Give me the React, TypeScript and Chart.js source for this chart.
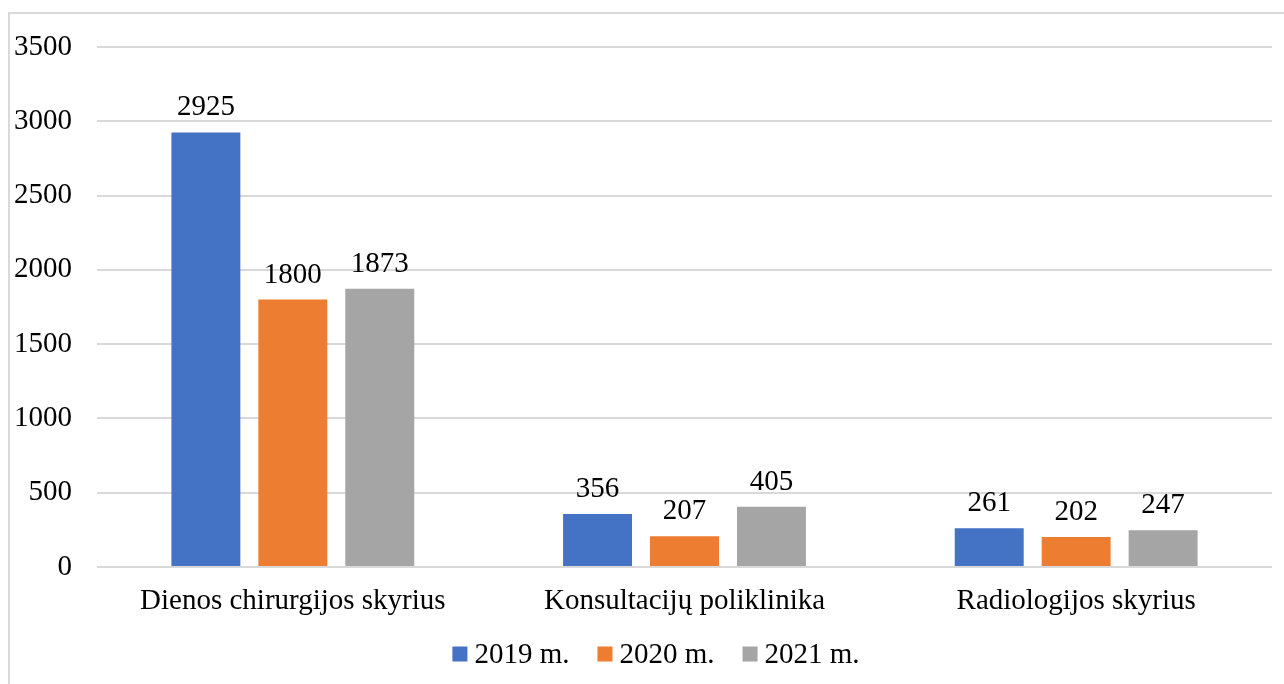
import React, { useEffect, useRef } from "react";
import { Chart, registerables } from "chart.js";

Chart.register(...registerables);

const categories = ["Dienos chirurgijos skyrius", "Konsultacijų poliklinika", "Radiologijos skyrius"];
const seriesNames = ["2019 m.", "2020 m.", "2021 m."];
const values2019 = [2925, 356, 261];
const values2020 = [1800, 207, 202];
const values2021 = [1873, 405, 247];
const colors = ["#4472C4", "#ED7D31", "#A5A5A5"];
const yTicks = [0, 500, 1000, 1500, 2000, 2500, 3000, 3500];

const FONT = "'Liberation Serif', 'Times New Roman', serif";
const FS = 29;

const valueLabels = {
  id: "valueLabels",
  afterDatasetsDraw(chart: any) {
    const ctx = chart.ctx;
    ctx.save();
    ctx.font = `${FS}px ${FONT}`;
    ctx.fillStyle = "#000";
    ctx.textAlign = "center";
    ctx.textBaseline = "alphabetic";
    chart.data.datasets.forEach((ds: any, i: number) => {
      const meta = chart.getDatasetMeta(i);
      meta.data.forEach((bar: any, j: number) => {
        ctx.fillText(String(ds.data[j]), bar.x, bar.y - 17);
      });
    });
    ctx.restore();
  },
};

const customLegend = {
  id: "customLegend",
  afterDraw(chart: any) {
    const ctx = chart.ctx;
    ctx.save();
    ctx.font = `${FS}px ${FONT}`;
    const box = 15;
    const gapText = 7;
    const gapItem = 28;
    const items = chart.data.datasets.map((ds: any) => ({
      label: ds.label,
      color: ds.backgroundColor,
      w: box + gapText + ctx.measureText(ds.label).width,
    }));
    const total = items.reduce((s: number, it: any) => s + it.w, 0) + gapItem * (items.length - 1);
    let x = 656 - total / 2;
    const cy = 654;
    items.forEach((it: any) => {
      ctx.fillStyle = it.color;
      ctx.fillRect(x, cy - box / 2, box, box);
      ctx.fillStyle = "#000";
      ctx.textAlign = "left";
      ctx.textBaseline = "middle";
      ctx.fillText(it.label, x + box + gapText, cy + 1);
      x += it.w + gapItem;
    });
    ctx.restore();
  },
};

export default function App() {
  const ref = useRef<HTMLCanvasElement | null>(null);
  useEffect(() => {
    if (!ref.current) return;
    const chart = new Chart(ref.current, {
      type: "bar",
      data: {
        labels: categories,
        datasets: [values2019, values2020, values2021].map((d, i) => ({
          label: seriesNames[i],
          data: d,
          backgroundColor: colors[i],
          borderWidth: 0,
          categoryPercentage: 0.666,
          barPercentage: 0.793,
        })),
      },
      options: {
        animation: false,
        responsive: false,
        layout: { padding: { top: 47, right: 12, left: 0, bottom: 57 } },
        scales: {
          x: {
            grid: { display: false },
            border: { display: false },
            afterFit: (scale: any) => {
              scale.height = 60;
            },
            ticks: { color: "#000", font: { family: FONT, size: FS }, padding: 9 },
          },
          y: {
            min: 0,
            max: 3500,
            afterBuildTicks: (scale: any) => {
              scale.ticks = yTicks.map((v) => ({ value: v }));
            },
            afterFit: (scale: any) => {
              scale.width = 97;
            },
            grid: { color: "#D9D9D9", lineWidth: 2, drawTicks: false },
            border: { display: false },
            ticks: {
              color: "#000",
              font: { family: FONT, size: FS },
              padding: 25,
              callback: (v: any) => String(v),
            },
          },
        },
        plugins: {
          legend: { display: false },
          tooltip: { enabled: false },
        },
      },
      plugins: [valueLabels, customLegend],
    });
    return () => chart.destroy();
  }, []);
  return (
    <div style={{ position: "fixed", left: 0, top: 0, width: 1284, height: 684, background: "#fff" }}>
      <div
        style={{
          position: "absolute",
          left: 8,
          top: 12,
          width: 1300,
          height: 700,
          border: "2px solid #D9D9D9",
          boxSizing: "border-box",
        }}
      />
      <canvas ref={ref} width={1284} height={684} style={{ position: "absolute", left: 0, top: 0 }} />
    </div>
  );
}
